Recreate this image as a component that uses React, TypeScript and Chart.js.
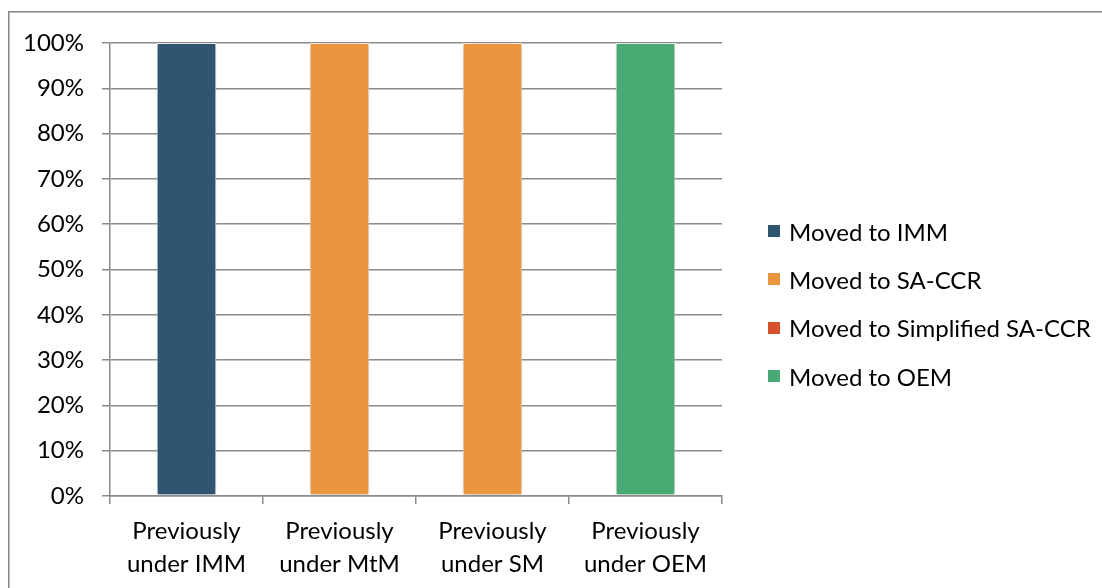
import React, { useEffect, useRef } from "react";
import { Chart, registerables } from "chart.js";

Chart.register(...registerables);

// Categories (two-line axis labels)
const categories: string[][] = [
  ["Previously", "under IMM"],
  ["Previously", "under MtM"],
  ["Previously", "under SM"],
  ["Previously", "under OEM"],
];

// Share of each portfolio by new method (%)
const seriesNames = [
  "Moved to IMM",
  "Moved to SA-CCR",
  "Moved to Simplified SA-CCR",
  "Moved to OEM",
];
const movedToIMM = [100, 0, 0, 0];
const movedToSACCR = [0, 100, 100, 0];
const movedToSimplified = [0, 0, 0, 0];
const movedToOEM = [0, 0, 0, 100];
const seriesColors = ["#2F5570", "#EB963E", "#D9512C", "#4AAA73"];

const yTickValues = [0, 10, 20, 30, 40, 50, 60, 70, 80, 90, 100];

const FONT = "Lato, 'Open Sans', sans-serif";
const GRID = "#8a8a8a";

// soft grey glow behind the bars
const barShadow = {
  id: "barShadow",
  beforeDatasetsDraw(chart: any) {
    const ctx = chart.ctx;
    ctx.save();
    ctx.shadowColor = "rgba(0,0,0,0.25)";
    ctx.shadowBlur = 8;
  },
  afterDatasetsDraw(chart: any) {
    chart.ctx.restore();
  },
};

// outer frame around the whole figure
const frame = {
  id: "frame",
  beforeDraw(chart: any) {
    const ctx = chart.ctx;
    ctx.save();
    ctx.strokeStyle = "#8a8a8a";
    ctx.lineWidth = 1.6;
    ctx.strokeRect(8.8, 11.8, chart.width + 20, chart.height + 20);
    ctx.restore();
  },
};

export default function App() {
  const canvasRef = useRef<HTMLCanvasElement | null>(null);

  useEffect(() => {
    if (!canvasRef.current) return;
    const values = [movedToIMM, movedToSACCR, movedToSimplified, movedToOEM];
    const chart = new Chart(canvasRef.current, {
      type: "bar",
      data: {
        labels: categories,
        datasets: values.map((v, i) => ({
          label: seriesNames[i],
          data: v,
          backgroundColor: seriesColors[i],
          borderColor: "#ffffff",
          borderWidth: 1,
          borderSkipped: false,
          barPercentage: 0.39,
          categoryPercentage: 1,
          clip: false,
        })),
      },
      options: {
        animation: false,
        responsive: false,
        maintainAspectRatio: false,
        layout: { padding: { left: 0, top: 43, right: 380, bottom: 0 } },
        plugins: {
          legend: { display: false },
          tooltip: { enabled: false },
          title: { display: false },
        },
        scales: {
          x: {
            stacked: true,
            offset: true,
            afterFit: (s: any) => {
              s.height = 92;
            },
            grid: {
              offset: true,
              drawOnChartArea: false,
              drawTicks: true,
              tickLength: 8,
              color: GRID,
              lineWidth: 1.5,
            },
            border: { display: true, color: GRID, width: 1.5 },
            ticks: {
              color: "#000",
              padding: 11,
              maxRotation: 0,
              font: { family: FONT, size: 24, lineHeight: 1.36 },
            },
          },
          y: {
            stacked: true,
            min: 0,
            max: 100,
            afterFit: (s: any) => {
              s.width = 110;
            },
            afterBuildTicks: (s: any) => {
              s.ticks = yTickValues.map((v) => ({ value: v }));
            },
            grid: {
              drawTicks: true,
              tickLength: 8,
              color: GRID,
              lineWidth: 1.5,
            },
            border: { display: true, color: GRID, width: 1.5 },
            ticks: {
              color: "#000",
              padding: 18,
              font: { family: FONT, size: 24 },
              callback: (v: any) => `${v}%`,
            },
          },
        },
      },
      plugins: [frame, barShadow],
    });
    return () => chart.destroy();
  }, []);

  return (
    <div style={{ position: "fixed", left: 0, top: 0, width: 1102, height: 588, background: "#fff" }}>
      <canvas ref={canvasRef} width={1102} height={588} style={{ position: "absolute", left: 0, top: 0 }} />
      <div style={{ position: "absolute", left: 768, top: 207, fontFamily: FONT, fontSize: 24, color: "#000" }}>
        {seriesNames.map((name, i) => (
          <div key={name} style={{ display: "flex", alignItems: "center", height: 48.3, whiteSpace: "nowrap" }}>
            <span style={{ display: "inline-block", width: 12, height: 12, background: seriesColors[i], marginRight: 9 }} />
            <span>{name}</span>
          </div>
        ))}
      </div>
    </div>
  );
}
